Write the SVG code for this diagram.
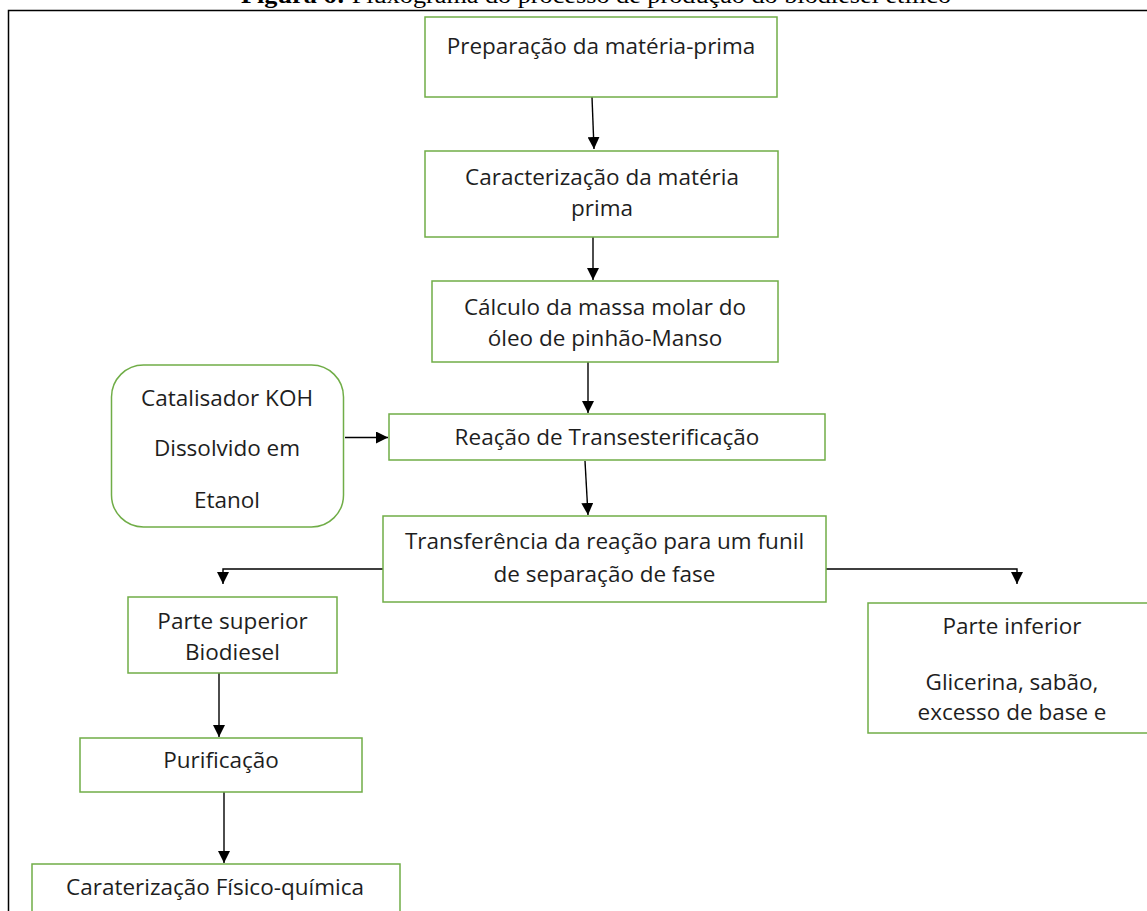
<svg xmlns="http://www.w3.org/2000/svg" width="1147" height="911" viewBox="0 0 1147 911">
<style>
.box{fill:#fff;stroke:#70AD47;stroke-width:1.5}
.t{font-family:"Open Sans","Noto Sans",sans-serif;font-size:22.5px;fill:#1e1e1e;text-anchor:middle}
.c{fill:none;stroke:#000;stroke-width:1.4}
</style>
<defs>
<marker id="ah" markerUnits="userSpaceOnUse" markerWidth="12" markerHeight="12" refX="12" refY="6" orient="auto">
<path d="M0,0 L12,6 L0,12 z" fill="#000"/>
</marker>
</defs>
<rect width="1147" height="911" fill="#fff"/>
<text x="596" y="3" font-family="'Liberation Serif',serif" font-size="24" text-anchor="middle" textLength="710" lengthAdjust="spacingAndGlyphs" fill="#000"><tspan font-weight="bold">Figura 6:</tspan> Fluxograma do processo de produção do biodiesel etílico</text>
<rect x="8.5" y="10.5" width="1200" height="1000" fill="none" stroke="#000" stroke-width="1.5"/>
<g id="connectors">
<path class="c" d="M592,97 L594,149" marker-end="url(#ah)"/>
<path class="c" d="M593,237 L593,280" marker-end="url(#ah)"/>
<path class="c" d="M588,362 L588,413" marker-end="url(#ah)"/>
<path class="c" d="M585,461 L588,515" marker-end="url(#ah)"/>
<path class="c" d="M345,437.5 L388,437.5" marker-end="url(#ah)"/>
<path class="c" d="M383,569 H223 V584" marker-end="url(#ah)"/>
<path class="c" d="M826,569 H1017 V584" marker-end="url(#ah)"/>
<path class="c" d="M219,673 L219,737" marker-end="url(#ah)"/>
<path class="c" d="M224,792 L224,863" marker-end="url(#ah)"/>
</g>
<g id="n1"><rect class="box" x="425" y="17" width="352" height="80"/><text class="t" x="601" y="54">Preparação da matéria-prima</text></g>
<g id="n2"><rect class="box" x="425" y="151" width="353" height="86"/><text class="t" x="602" y="184.5">Caracterização da matéria</text><text class="t" x="602" y="216">prima</text></g>
<g id="n3"><rect class="box" x="432" y="281" width="346" height="81"/><text class="t" x="605" y="314.5">Cálculo da massa molar do</text><text class="t" x="605" y="346">óleo de pinhão-Manso</text></g>
<g id="n4"><rect class="box" x="389" y="414" width="436" height="46"/><text class="t" x="607" y="444.5">Reação de Transesterificação</text></g>
<g id="cat"><rect class="box" x="111.5" y="365" width="232" height="162" rx="32" ry="32"/><text class="t" x="227" y="405.5">Catalisador KOH</text><text class="t" x="227" y="456">Dissolvido em</text><text class="t" x="227" y="508">Etanol</text></g>
<g id="n5"><rect class="box" x="383" y="516" width="443" height="86"/><text class="t" x="604.5" y="549">Transferência da reação para um funil</text><text class="t" x="604.5" y="582">de separação de fase</text></g>
<g id="n6"><rect class="box" x="128" y="597" width="209" height="76"/><text class="t" x="232.5" y="629">Parte superior</text><text class="t" x="232.5" y="660">Biodiesel</text></g>
<g id="n7"><rect class="box" x="868" y="603" width="300" height="130"/><text class="t" x="1012" y="634">Parte inferior</text><text class="t" x="1012" y="690">Glicerina, sabão,</text><text class="t" x="1012" y="720">excesso de base e</text></g>
<g id="n8"><rect class="box" x="80" y="738" width="282" height="54"/><text class="t" x="221" y="768">Purificação</text></g>
<g id="n9"><rect class="box" x="32" y="864" width="368" height="70"/><text class="t" x="215" y="894.5">Caraterização Físico-química</text></g>
</svg>
